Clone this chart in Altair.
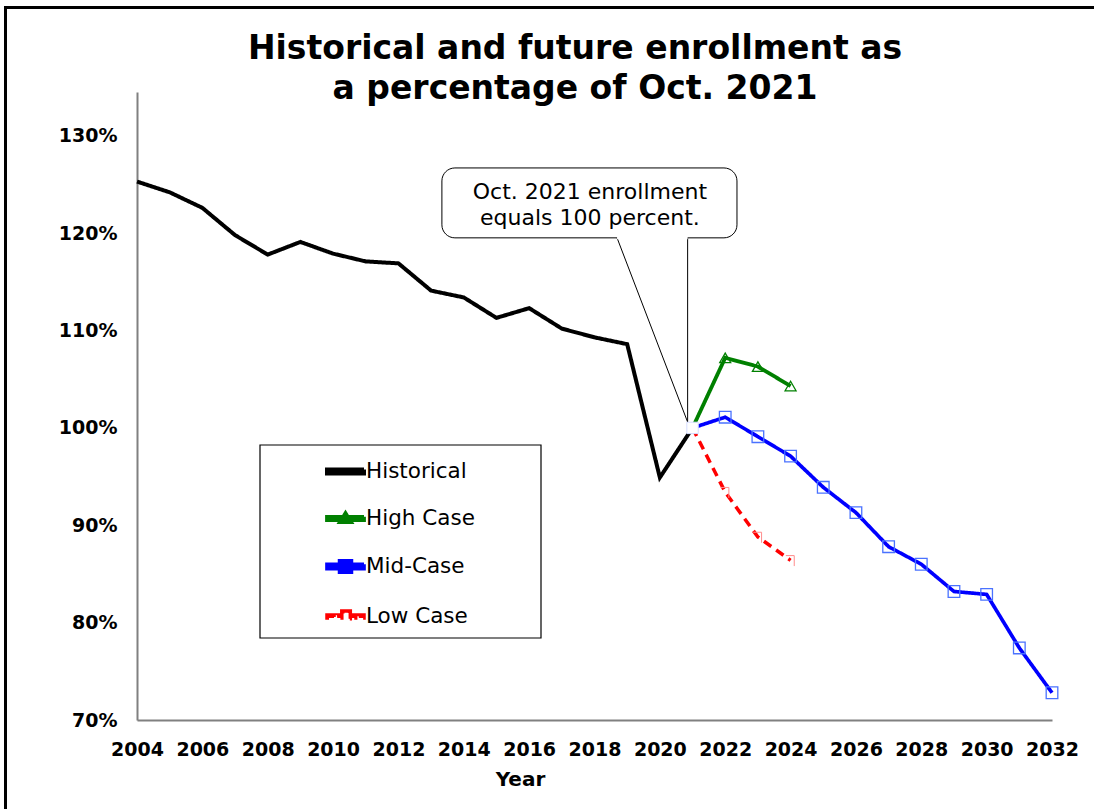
import altair as alt
import pandas as pd

# ---------------- data ----------------
hist_years = [2004, 2005, 2006, 2007, 2008, 2009, 2010, 2011, 2012, 2013,
              2014, 2015, 2016, 2017, 2018, 2019, 2020, 2021]
hist_vals = [125.3, 124.2, 122.6, 119.8, 117.8, 119.1, 117.9, 117.1, 116.9, 114.1,
             113.4, 111.3, 112.3, 110.2, 109.3, 108.6, 94.9, 100.0]
high_years = [2021, 2022, 2023, 2024]
high_vals = [100.0, 107.2, 106.3, 104.3]
mid_years = [2021, 2022, 2023, 2024, 2025, 2026, 2027, 2028, 2029, 2030, 2031, 2032]
mid_vals = [100.0, 101.1, 99.1, 97.1, 93.9, 91.3, 87.8, 86.0, 83.2, 82.9, 77.4, 72.8]
low_years = [2021, 2022, 2023, 2024]
low_vals = [100.0, 93.4, 88.8, 86.4]

series_names = ["Historical", "High Case", "Mid-Case", "Low Case"]
series_colors = ["#000000", "#008000", "#0000ff", "#ff0000"]
series_widths = [4, 3.5, 4.5, 3.5]
series_dashes = [[1, 0], [1, 0], [1, 0], [9, 6]]

x_ticks = [2004, 2006, 2008, 2010, 2012, 2014, 2016, 2018, 2020, 2022, 2024,
           2026, 2028, 2030, 2032]
y_ticks = [70, 80, 90, 100, 110, 120, 130]

title_lines = ["Historical and future enrollment as", "a percentage of Oct. 2021"]
note_lines = ["Oct. 2021 enrollment", "equals 100 percent."]
note_line_y = [124.25, 121.58]
note_text_x = [2017.86, 2017.86]
note_box_x = [2013.33]
note_box_x2 = [2022.36]
note_box_y = [126.7]
note_box_y2 = [119.52]
pointer_x = [2018.69, 2020.85]
pointer_y = [119.52, 119.52]
pointer_x2 = [2020.85, 2020.85]
pointer_y2 = [100.6, 100.6]

# legend symbols: line + marker, built from filled pieces (1 unit = 18.5 px)
legend_paths = [
    "M -1 -0.11 L 1 -0.11 L 1 0.11 L -1 0.11 Z",
    "M -1 -0.09 L 1 -0.09 L 1 0.09 L -1 0.09 Z "
    "M -0.3 0.2 L 0 -0.29 L 0.3 0.2 Z M -0.22 0.155 L 0.22 0.155 L 0 -0.2 Z",
    "M -1 -0.12 L 1 -0.12 L 1 0.12 L -1 0.12 Z "
    "M -0.32 -0.3 L 0.32 -0.3 L 0.32 -0.245 L -0.32 -0.245 Z "
    "M -0.32 0.245 L 0.32 0.245 L 0.32 0.3 L -0.32 0.3 Z "
    "M -0.32 -0.3 L -0.265 -0.3 L -0.265 0.3 L -0.32 0.3 Z "
    "M 0.265 -0.3 L 0.32 -0.3 L 0.32 0.3 L 0.265 0.3 Z",
    "M -1 -0.08 L -0.62 -0.08 L -0.62 0.08 L -1 0.08 Z "
    "M -0.45 -0.08 L -0.2 -0.08 L -0.2 0.08 L -0.45 0.08 Z "
    "M 0.3 -0.08 L 0.55 -0.08 L 0.55 0.08 L 0.3 0.08 Z "
    "M 0.72 -0.08 L 1 -0.08 L 1 0.08 L 0.72 0.08 Z "
    "M -0.2 -0.3 L 0.26 -0.3 L 0.26 -0.26 L -0.2 -0.26 Z "
    "M 0.22 -0.3 L 0.26 -0.3 L 0.26 0.12 L 0.22 0.12 Z",
]

rows = []
for name, yrs, vs in [("Historical", hist_years, hist_vals), ("High Case", high_years, high_vals),
                      ("Mid-Case", mid_years, mid_vals), ("Low Case", low_years, low_vals)]:
    for yr, v in zip(yrs, vs):
        rows.append({"series": name, "year": yr, "value": v})
df = pd.DataFrame(rows)

xs = alt.Scale(domain=[2004, 2032], nice=False, zero=False)
ys = alt.Scale(domain=[70, 134.5], nice=False, zero=False)
color_scale = alt.Scale(domain=series_names, range=series_colors)

X = alt.X("year:Q", scale=xs,
          axis=alt.Axis(values=x_ticks, format="d", labelPadding=20, labelOverlap=False,
                        labelFlush=False, title="Year",
                        titleFontSize=20, titleFontWeight="bold", titleFont="DejaVu Sans",
                        titleColor="black", titleX=383, titleY=65, titleBaseline="alphabetic",
                        titleAlign="center"))
Y = alt.Y("value:Q", scale=ys,
          axis=alt.Axis(values=y_ticks, labelExpr="datum.value + '%'", labelPadding=20,
                        labelOverlap=False, labelFlush=False, title=None))

base = alt.Chart(df)

legend_kw = dict(title=None, orient="none", legendX=123, legendY=353, padding=6,
                 symbolSize=1369, symbolOffset=59, labelOffset=0,
                 symbolStrokeWidth=0, symbolStrokeColor="transparent", symbolOpacity=1,
                 rowPadding=16,
                 labelFont="DejaVu Sans", labelFontSize=21.5, labelColor="black",
                 labelFontWeight="normal")

carrier = base.mark_point(filled=True, opacity=0, strokeWidth=0, strokeOpacity=0).encode(
    x=X, y=Y,
    color=alt.Color("series:N", scale=color_scale, legend=alt.Legend(**legend_kw)),
    shape=alt.Shape("series:N", scale=alt.Scale(domain=series_names, range=legend_paths),
                    legend=alt.Legend(**legend_kw)),
)

lines = base.mark_line(strokeJoin="miter").encode(
    x=X, y=Y,
    color=alt.Color("series:N", scale=color_scale),
    strokeWidth=alt.StrokeWidth("series:N", scale=alt.Scale(domain=series_names, range=series_widths), legend=None),
    strokeDash=alt.StrokeDash("series:N", scale=alt.Scale(domain=series_names, range=series_dashes), legend=None),
    detail="series:N",
    order="year:Q",
)

high_pts = base.transform_filter("datum.series == 'High Case' && datum.year > 2021").mark_point(
    shape="triangle-up", filled=False, color="#008000", size=120, strokeWidth=1.3, opacity=1
).encode(x=X, y=Y)
mid_pts = base.transform_filter("datum.series == 'Mid-Case' && datum.year > 2021").mark_point(
    shape="square", filled=False, color="#4a72ff", size=135, strokeWidth=1.3, opacity=1
).encode(x=X, y=Y)
low_pts = base.transform_filter("datum.series == 'Low Case' && datum.year > 2021").mark_point(
    shape="M -0.9 -0.9 L 0.7 -0.9 L 0.7 1.1", filled=False, color="#ff8c8c", size=110,
    strokeWidth=1, opacity=1
).encode(x=X, y=Y)
start_pt = base.transform_filter("datum.series == 'Mid-Case' && datum.year == 2021").mark_point(
    shape="square", filled=True, fill="white", stroke="#d4dcff", size=130, strokeWidth=1, opacity=1
).encode(x=X, y=Y)

note_df = pd.DataFrame({"x": note_box_x, "x2": note_box_x2, "y": note_box_y, "y2": note_box_y2})
ptr_df = pd.DataFrame({"x": pointer_x, "y": pointer_y, "x2": pointer_x2, "y2": pointer_y2})
gap_df = pd.DataFrame({"x": [pointer_x[0]], "x2": [pointer_x2[0]], "y": [pointer_y[0]]})
txt_df = pd.DataFrame({"x": note_text_x, "y": note_line_y, "t": note_lines})

note_box = alt.Chart(note_df).mark_rect(fill="white", stroke="black", strokeWidth=1,
                                        cornerRadius=13).encode(
    x=alt.X("x:Q", scale=xs), x2="x2:Q", y=alt.Y("y:Q", scale=ys), y2="y2:Q")
note_gap = alt.Chart(gap_df).mark_rule(color="white", strokeWidth=3).encode(
    x=alt.X("x:Q", scale=xs), x2="x2:Q", y=alt.Y("y:Q", scale=ys))
pointer = alt.Chart(ptr_df).mark_rule(color="black", strokeWidth=1).encode(
    x=alt.X("x:Q", scale=xs), y=alt.Y("y:Q", scale=ys), x2="x2:Q", y2="y2:Q")
note_txt = alt.Chart(txt_df).mark_text(font="DejaVu Sans", fontSize=22, color="black",
                                       align="center", baseline="middle").encode(
    x=alt.X("x:Q", scale=xs), y=alt.Y("y:Q", scale=ys), text="t:N")

frame_df = pd.DataFrame({"a": [0]})
frame_left = alt.Chart(frame_df).mark_rule(color="black", strokeWidth=3).encode(
    x=alt.value(-131.5), y=alt.value(-86), y2=alt.value(740))
frame_top = alt.Chart(frame_df).mark_rule(color="black", strokeWidth=3).encode(
    x=alt.value(-133), x2=alt.value(970), y=alt.value(-84.5))
legend_box = alt.Chart(frame_df).mark_rect(fill=None, stroke="black", strokeWidth=1.2).encode(
    x=alt.value(123), x2=alt.value(404), y=alt.value(353), y2=alt.value(546))

chart = alt.layer(
    carrier, frame_left, frame_top, lines, pointer, note_box, note_gap, note_txt,
    high_pts, mid_pts, low_pts, start_pt, legend_box
).properties(
    width=915, height=628,
    autosize=alt.AutoSizeParams(type="none"),
    padding={"left": 137, "top": 92, "right": 42, "bottom": 89},
    title=alt.TitleParams(text=title_lines, font="DejaVu Sans", fontSize=33, fontWeight="bold",
                          color="black", anchor="middle", dx=-19.5, offset=-101, lineHeight=40),
).configure_view(stroke=None).configure_axis(
    domainColor="#808080", domainWidth=2, ticks=False, tickSize=0, grid=False,
    labelFont="DejaVu Sans", labelFontWeight="bold", labelFontSize=19, labelColor="black",
)

chart.save("out.html", embed_options={"renderer": "svg", "actions": False})
